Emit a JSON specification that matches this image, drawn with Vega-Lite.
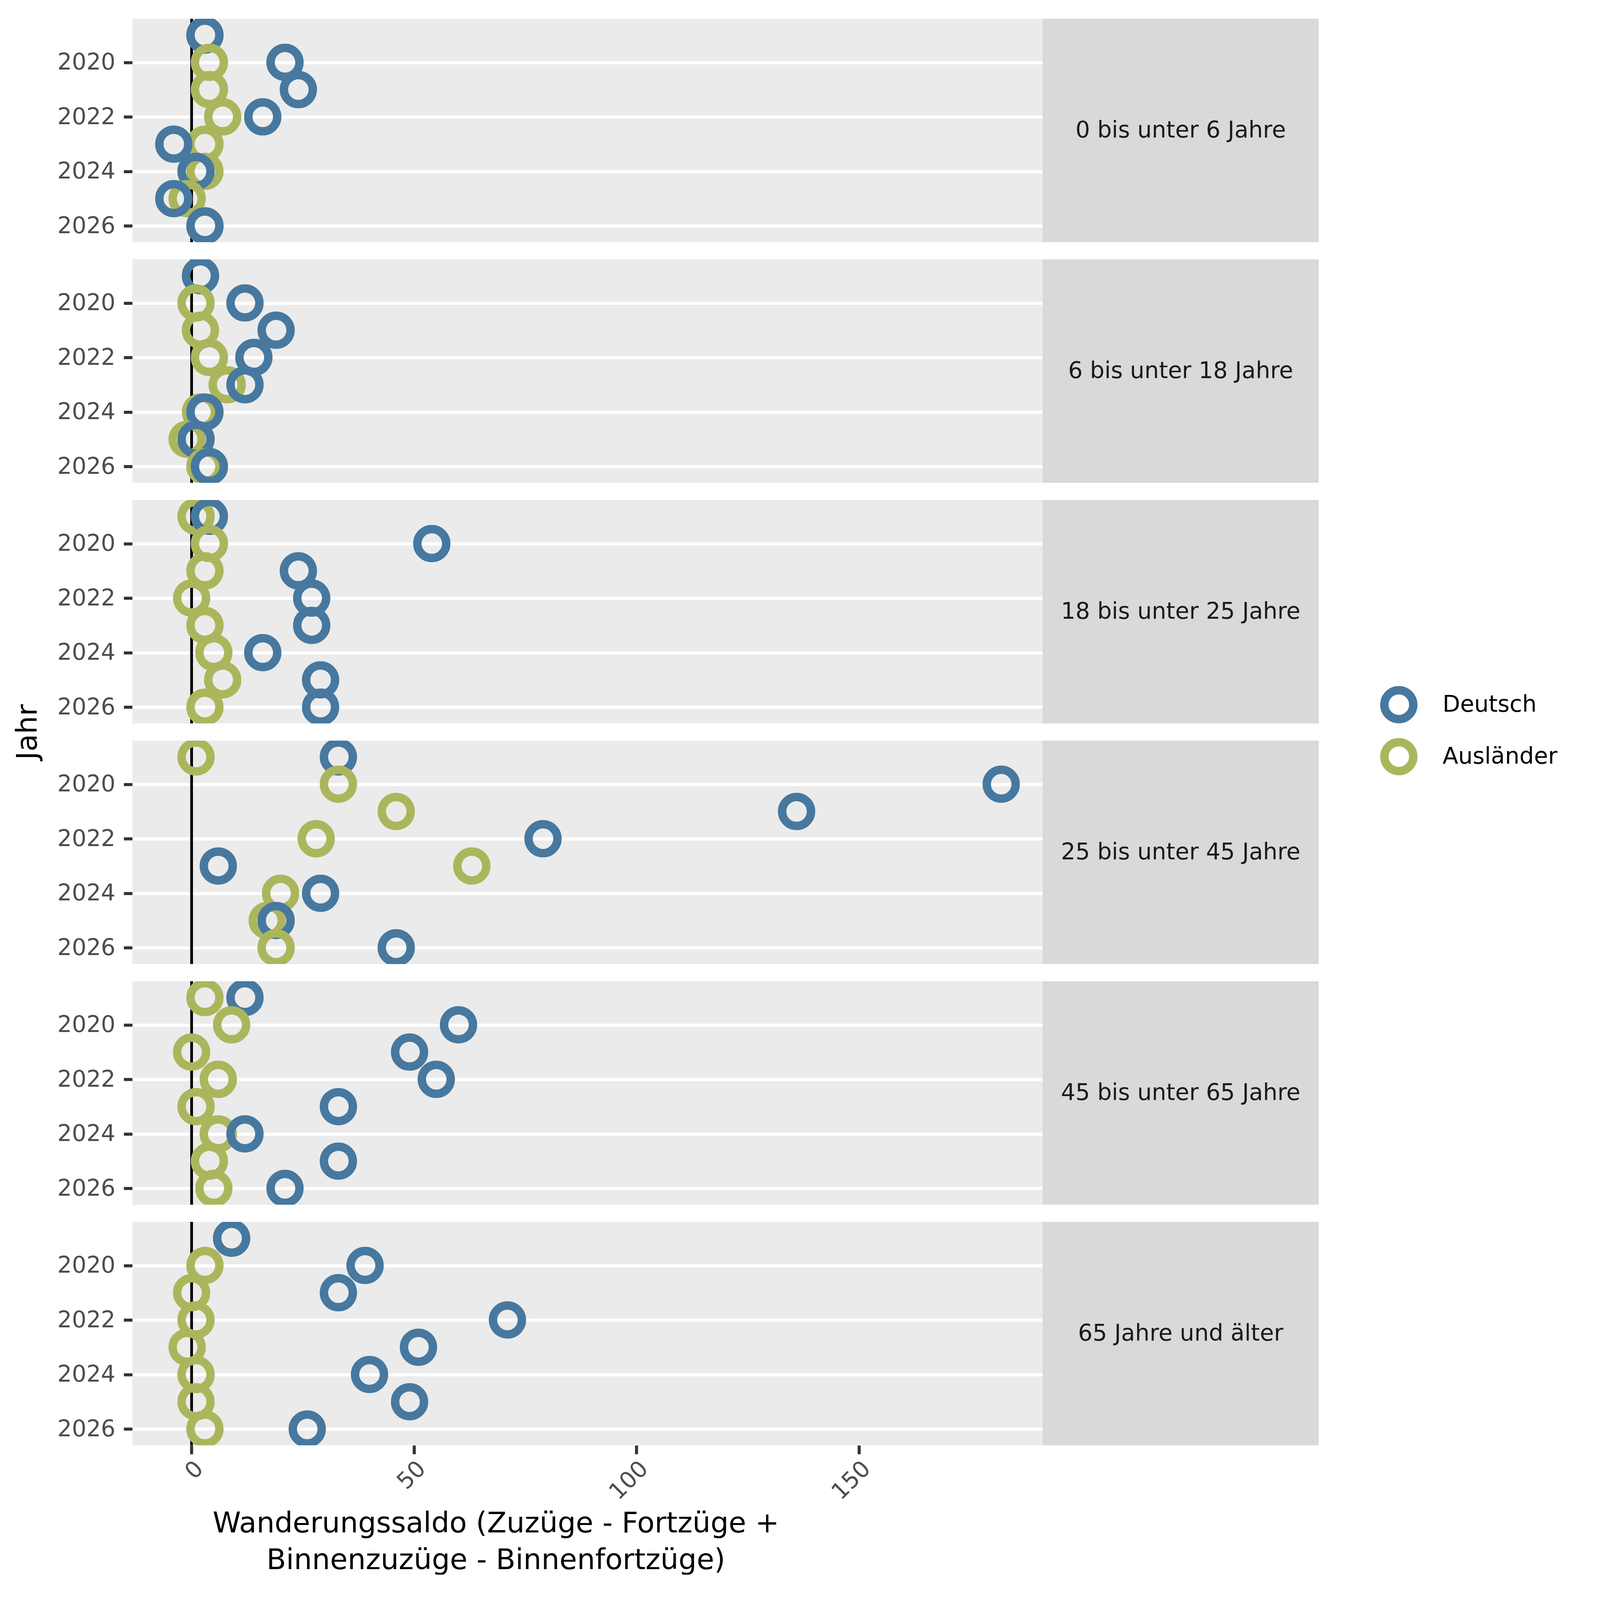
{
  "$schema": "https://vega.github.io/schema/vega-lite/v6.json",
  "background": "white",
  "padding": {"left": 36, "top": 44, "right": 40, "bottom": 0},
  "config": {
    "font": "DejaVu Sans",
    "view": {"stroke": null},
    "concat": {"spacing": 0}
  },
  "datasets": {
    "saldo": [
      {"Alter": "0 bis unter 6 Jahre", "Jahr": 2019, "Staat": "Ausländer", "Saldo": 3},
      {"Alter": "0 bis unter 6 Jahre", "Jahr": 2019, "Staat": "Deutsch", "Saldo": 3},
      {"Alter": "0 bis unter 6 Jahre", "Jahr": 2020, "Staat": "Ausländer", "Saldo": 4},
      {"Alter": "0 bis unter 6 Jahre", "Jahr": 2020, "Staat": "Deutsch", "Saldo": 21},
      {"Alter": "0 bis unter 6 Jahre", "Jahr": 2021, "Staat": "Ausländer", "Saldo": 4},
      {"Alter": "0 bis unter 6 Jahre", "Jahr": 2021, "Staat": "Deutsch", "Saldo": 24},
      {"Alter": "0 bis unter 6 Jahre", "Jahr": 2022, "Staat": "Ausländer", "Saldo": 7},
      {"Alter": "0 bis unter 6 Jahre", "Jahr": 2022, "Staat": "Deutsch", "Saldo": 16},
      {"Alter": "0 bis unter 6 Jahre", "Jahr": 2023, "Staat": "Ausländer", "Saldo": 3},
      {"Alter": "0 bis unter 6 Jahre", "Jahr": 2023, "Staat": "Deutsch", "Saldo": -4},
      {"Alter": "0 bis unter 6 Jahre", "Jahr": 2024, "Staat": "Ausländer", "Saldo": 3},
      {"Alter": "0 bis unter 6 Jahre", "Jahr": 2024, "Staat": "Deutsch", "Saldo": 1},
      {"Alter": "0 bis unter 6 Jahre", "Jahr": 2025, "Staat": "Ausländer", "Saldo": -1},
      {"Alter": "0 bis unter 6 Jahre", "Jahr": 2025, "Staat": "Deutsch", "Saldo": -4},
      {"Alter": "0 bis unter 6 Jahre", "Jahr": 2026, "Staat": "Ausländer", "Saldo": 3},
      {"Alter": "0 bis unter 6 Jahre", "Jahr": 2026, "Staat": "Deutsch", "Saldo": 3},

      {"Alter": "6 bis unter 18 Jahre", "Jahr": 2019, "Staat": "Ausländer", "Saldo": 2},
      {"Alter": "6 bis unter 18 Jahre", "Jahr": 2019, "Staat": "Deutsch", "Saldo": 2},
      {"Alter": "6 bis unter 18 Jahre", "Jahr": 2020, "Staat": "Ausländer", "Saldo": 1},
      {"Alter": "6 bis unter 18 Jahre", "Jahr": 2020, "Staat": "Deutsch", "Saldo": 12},
      {"Alter": "6 bis unter 18 Jahre", "Jahr": 2021, "Staat": "Ausländer", "Saldo": 2},
      {"Alter": "6 bis unter 18 Jahre", "Jahr": 2021, "Staat": "Deutsch", "Saldo": 19},
      {"Alter": "6 bis unter 18 Jahre", "Jahr": 2022, "Staat": "Ausländer", "Saldo": 4},
      {"Alter": "6 bis unter 18 Jahre", "Jahr": 2022, "Staat": "Deutsch", "Saldo": 14},
      {"Alter": "6 bis unter 18 Jahre", "Jahr": 2023, "Staat": "Ausländer", "Saldo": 8},
      {"Alter": "6 bis unter 18 Jahre", "Jahr": 2023, "Staat": "Deutsch", "Saldo": 12},
      {"Alter": "6 bis unter 18 Jahre", "Jahr": 2024, "Staat": "Ausländer", "Saldo": 2},
      {"Alter": "6 bis unter 18 Jahre", "Jahr": 2024, "Staat": "Deutsch", "Saldo": 3},
      {"Alter": "6 bis unter 18 Jahre", "Jahr": 2025, "Staat": "Ausländer", "Saldo": -1},
      {"Alter": "6 bis unter 18 Jahre", "Jahr": 2025, "Staat": "Deutsch", "Saldo": 1},
      {"Alter": "6 bis unter 18 Jahre", "Jahr": 2026, "Staat": "Ausländer", "Saldo": 3},
      {"Alter": "6 bis unter 18 Jahre", "Jahr": 2026, "Staat": "Deutsch", "Saldo": 4},

      {"Alter": "18 bis unter 25 Jahre", "Jahr": 2019, "Staat": "Ausländer", "Saldo": 1},
      {"Alter": "18 bis unter 25 Jahre", "Jahr": 2019, "Staat": "Deutsch", "Saldo": 4},
      {"Alter": "18 bis unter 25 Jahre", "Jahr": 2020, "Staat": "Ausländer", "Saldo": 4},
      {"Alter": "18 bis unter 25 Jahre", "Jahr": 2020, "Staat": "Deutsch", "Saldo": 54},
      {"Alter": "18 bis unter 25 Jahre", "Jahr": 2021, "Staat": "Ausländer", "Saldo": 3},
      {"Alter": "18 bis unter 25 Jahre", "Jahr": 2021, "Staat": "Deutsch", "Saldo": 24},
      {"Alter": "18 bis unter 25 Jahre", "Jahr": 2022, "Staat": "Ausländer", "Saldo": 0},
      {"Alter": "18 bis unter 25 Jahre", "Jahr": 2022, "Staat": "Deutsch", "Saldo": 27},
      {"Alter": "18 bis unter 25 Jahre", "Jahr": 2023, "Staat": "Ausländer", "Saldo": 3},
      {"Alter": "18 bis unter 25 Jahre", "Jahr": 2023, "Staat": "Deutsch", "Saldo": 27},
      {"Alter": "18 bis unter 25 Jahre", "Jahr": 2024, "Staat": "Ausländer", "Saldo": 5},
      {"Alter": "18 bis unter 25 Jahre", "Jahr": 2024, "Staat": "Deutsch", "Saldo": 16},
      {"Alter": "18 bis unter 25 Jahre", "Jahr": 2025, "Staat": "Ausländer", "Saldo": 7},
      {"Alter": "18 bis unter 25 Jahre", "Jahr": 2025, "Staat": "Deutsch", "Saldo": 29},
      {"Alter": "18 bis unter 25 Jahre", "Jahr": 2026, "Staat": "Ausländer", "Saldo": 3},
      {"Alter": "18 bis unter 25 Jahre", "Jahr": 2026, "Staat": "Deutsch", "Saldo": 29},

      {"Alter": "25 bis unter 45 Jahre", "Jahr": 2019, "Staat": "Ausländer", "Saldo": 1},
      {"Alter": "25 bis unter 45 Jahre", "Jahr": 2019, "Staat": "Deutsch", "Saldo": 33},
      {"Alter": "25 bis unter 45 Jahre", "Jahr": 2020, "Staat": "Ausländer", "Saldo": 33},
      {"Alter": "25 bis unter 45 Jahre", "Jahr": 2020, "Staat": "Deutsch", "Saldo": 182},
      {"Alter": "25 bis unter 45 Jahre", "Jahr": 2021, "Staat": "Ausländer", "Saldo": 46},
      {"Alter": "25 bis unter 45 Jahre", "Jahr": 2021, "Staat": "Deutsch", "Saldo": 136},
      {"Alter": "25 bis unter 45 Jahre", "Jahr": 2022, "Staat": "Ausländer", "Saldo": 28},
      {"Alter": "25 bis unter 45 Jahre", "Jahr": 2022, "Staat": "Deutsch", "Saldo": 79},
      {"Alter": "25 bis unter 45 Jahre", "Jahr": 2023, "Staat": "Ausländer", "Saldo": 63},
      {"Alter": "25 bis unter 45 Jahre", "Jahr": 2023, "Staat": "Deutsch", "Saldo": 6},
      {"Alter": "25 bis unter 45 Jahre", "Jahr": 2024, "Staat": "Ausländer", "Saldo": 20},
      {"Alter": "25 bis unter 45 Jahre", "Jahr": 2024, "Staat": "Deutsch", "Saldo": 29},
      {"Alter": "25 bis unter 45 Jahre", "Jahr": 2025, "Staat": "Ausländer", "Saldo": 17},
      {"Alter": "25 bis unter 45 Jahre", "Jahr": 2025, "Staat": "Deutsch", "Saldo": 19},
      {"Alter": "25 bis unter 45 Jahre", "Jahr": 2026, "Staat": "Ausländer", "Saldo": 19},
      {"Alter": "25 bis unter 45 Jahre", "Jahr": 2026, "Staat": "Deutsch", "Saldo": 46},

      {"Alter": "45 bis unter 65 Jahre", "Jahr": 2019, "Staat": "Ausländer", "Saldo": 3},
      {"Alter": "45 bis unter 65 Jahre", "Jahr": 2019, "Staat": "Deutsch", "Saldo": 12},
      {"Alter": "45 bis unter 65 Jahre", "Jahr": 2020, "Staat": "Ausländer", "Saldo": 9},
      {"Alter": "45 bis unter 65 Jahre", "Jahr": 2020, "Staat": "Deutsch", "Saldo": 60},
      {"Alter": "45 bis unter 65 Jahre", "Jahr": 2021, "Staat": "Ausländer", "Saldo": 0},
      {"Alter": "45 bis unter 65 Jahre", "Jahr": 2021, "Staat": "Deutsch", "Saldo": 49},
      {"Alter": "45 bis unter 65 Jahre", "Jahr": 2022, "Staat": "Ausländer", "Saldo": 6},
      {"Alter": "45 bis unter 65 Jahre", "Jahr": 2022, "Staat": "Deutsch", "Saldo": 55},
      {"Alter": "45 bis unter 65 Jahre", "Jahr": 2023, "Staat": "Ausländer", "Saldo": 1},
      {"Alter": "45 bis unter 65 Jahre", "Jahr": 2023, "Staat": "Deutsch", "Saldo": 33},
      {"Alter": "45 bis unter 65 Jahre", "Jahr": 2024, "Staat": "Ausländer", "Saldo": 6},
      {"Alter": "45 bis unter 65 Jahre", "Jahr": 2024, "Staat": "Deutsch", "Saldo": 12},
      {"Alter": "45 bis unter 65 Jahre", "Jahr": 2025, "Staat": "Ausländer", "Saldo": 4},
      {"Alter": "45 bis unter 65 Jahre", "Jahr": 2025, "Staat": "Deutsch", "Saldo": 33},
      {"Alter": "45 bis unter 65 Jahre", "Jahr": 2026, "Staat": "Ausländer", "Saldo": 5},
      {"Alter": "45 bis unter 65 Jahre", "Jahr": 2026, "Staat": "Deutsch", "Saldo": 21},

      {"Alter": "65 Jahre und älter", "Jahr": 2019, "Staat": "Ausländer", "Saldo": 9},
      {"Alter": "65 Jahre und älter", "Jahr": 2019, "Staat": "Deutsch", "Saldo": 9},
      {"Alter": "65 Jahre und älter", "Jahr": 2020, "Staat": "Ausländer", "Saldo": 3},
      {"Alter": "65 Jahre und älter", "Jahr": 2020, "Staat": "Deutsch", "Saldo": 39},
      {"Alter": "65 Jahre und älter", "Jahr": 2021, "Staat": "Ausländer", "Saldo": 0},
      {"Alter": "65 Jahre und älter", "Jahr": 2021, "Staat": "Deutsch", "Saldo": 33},
      {"Alter": "65 Jahre und älter", "Jahr": 2022, "Staat": "Ausländer", "Saldo": 1},
      {"Alter": "65 Jahre und älter", "Jahr": 2022, "Staat": "Deutsch", "Saldo": 71},
      {"Alter": "65 Jahre und älter", "Jahr": 2023, "Staat": "Ausländer", "Saldo": -1},
      {"Alter": "65 Jahre und älter", "Jahr": 2023, "Staat": "Deutsch", "Saldo": 51},
      {"Alter": "65 Jahre und älter", "Jahr": 2024, "Staat": "Ausländer", "Saldo": 1},
      {"Alter": "65 Jahre und älter", "Jahr": 2024, "Staat": "Deutsch", "Saldo": 40},
      {"Alter": "65 Jahre und älter", "Jahr": 2025, "Staat": "Ausländer", "Saldo": 1},
      {"Alter": "65 Jahre und älter", "Jahr": 2025, "Staat": "Deutsch", "Saldo": 49},
      {"Alter": "65 Jahre und älter", "Jahr": 2026, "Staat": "Ausländer", "Saldo": 3},
      {"Alter": "65 Jahre und älter", "Jahr": 2026, "Staat": "Deutsch", "Saldo": 26}
    ],
    "strips": [
      {"Alter": "0 bis unter 6 Jahre"},
      {"Alter": "6 bis unter 18 Jahre"},
      {"Alter": "18 bis unter 25 Jahre"},
      {"Alter": "25 bis unter 45 Jahre"},
      {"Alter": "45 bis unter 65 Jahre"},
      {"Alter": "65 Jahre und älter"}
    ]
  },
  "hconcat": [
    {
      "data": {"name": "saldo"},
      "bounds": "flush",
      "facet": {
        "row": {
          "field": "Alter", "type": "nominal",
          "sort": ["0 bis unter 6 Jahre", "6 bis unter 18 Jahre", "18 bis unter 25 Jahre", "25 bis unter 45 Jahre", "45 bis unter 65 Jahre", "65 Jahre und älter"],
          "header": {
            "labels": false,
            "title": "Jahr",
            "titleFontSize": 73,
            "titleFontWeight": "normal",
            "titleColor": "black",
            "titlePadding": 27
          }
        }
      },
      "spacing": {"row": 44},
      "spec": {
        "width": 2330,
        "height": 572,
        "view": {"fill": "#EBEBEB", "stroke": null},
        "layer": [
          {
            "transform": [{"filter": "datum.Staat === 'Deutsch'"}],
            "mark": {"type": "rule", "color": "black", "strokeWidth": 6.8},
            "encoding": {"x": {"datum": 0, "type": "quantitative"}}
          },
          {
            "mark": {"type": "point", "filled": false, "strokeWidth": 21.5, "size": 5476, "opacity": 1, "clip": true},
            "encoding": {
              "x": {
                "field": "Saldo", "type": "quantitative",
                "scale": {"domain": [-13.3, 191.3], "nice": false, "zero": false},
                "axis": {
                  "values": [0, 25, 50, 75, 100, 125, 150, 175],
                  "labelExpr": "datum.value % 50 === 0 ? datum.label : ''",
                  "labelAngle": -45,
                  "labelFontSize": 58.5,
                  "labelColor": "#4D4D4D",
                  "labelPadding": 8,
                  "tickColor": "#333333",
                  "tickWidth": 7.8,
                  "tickSize": 22.4,
                  "tickOpacity": {"condition": {"test": "datum.value % 50 === 0", "value": 1}, "value": 0},
                  "gridColor": "white",
                  "gridWidth": {"condition": {"test": "datum.value % 50 === 0", "value": 7.8}, "value": 3.9},
                  "domain": false,
                  "title": ["Wanderungssaldo (Zuzüge - Fortzüge +", "Binnenzuzüge - Binnenfortzüge)"],
                  "titleFontSize": 73,
                  "titleFontWeight": "normal",
                  "titleColor": "black",
                  "titleLineHeight": 94,
                  "titleX": 930,
                  "titleY": 222,
                  "titleAlign": "center",
                  "titleBaseline": "alphabetic"
                }
              },
              "y": {
                "field": "Jahr", "type": "quantitative",
                "scale": {"domain": [2018.4, 2026.6], "reverse": true, "nice": false, "zero": false},
                "axis": {
                  "values": [2020, 2022, 2024, 2026],
                  "format": "d",
                  "labelFontSize": 58.5,
                  "labelColor": "#4D4D4D",
                  "labelPadding": 21.5,
                  "tickColor": "#333333",
                  "tickWidth": 7.8,
                  "tickSize": 22.4,
                  "gridColor": "white",
                  "gridWidth": 7.8,
                  "domain": false,
                  "title": null
                }
              },
              "color": {
                "field": "Staat", "type": "nominal",
                "scale": {"domain": ["Deutsch", "Ausländer"], "range": ["#47789F", "#ABB65C"]},
                "legend": {
                  "orient": "none",
                  "legendX": 3194,
                  "legendY": 1708,
                  "title": null,
                  "padding": 0,
                  "labelFontSize": 58.5,
                  "labelColor": "black",
                  "labelLimit": 0,
                  "labelOffset": 64,
                  "symbolSize": 5476,
                  "symbolStrokeWidth": 21.5,
                  "symbolType": "circle",
                  "rowPadding": -27
                }
              }
            }
          }
        ]
      }
    },
    {
      "data": {"name": "strips"},
      "bounds": "flush",
      "facet": {
        "row": {
          "field": "Alter", "type": "nominal",
          "sort": ["0 bis unter 6 Jahre", "6 bis unter 18 Jahre", "18 bis unter 25 Jahre", "25 bis unter 45 Jahre", "45 bis unter 65 Jahre", "65 Jahre und älter"],
          "header": {"labels": false, "title": null}
        }
      },
      "spacing": {"row": 44},
      "spec": {
        "width": 707,
        "height": 572,
        "view": {"fill": "#D9D9D9", "stroke": null},
        "mark": {"type": "text", "fontSize": 58.5, "color": "#1A1A1A", "align": "center", "baseline": "middle"},
        "encoding": {"text": {"field": "Alter", "type": "nominal"}}
      }
    }
  ]
}
